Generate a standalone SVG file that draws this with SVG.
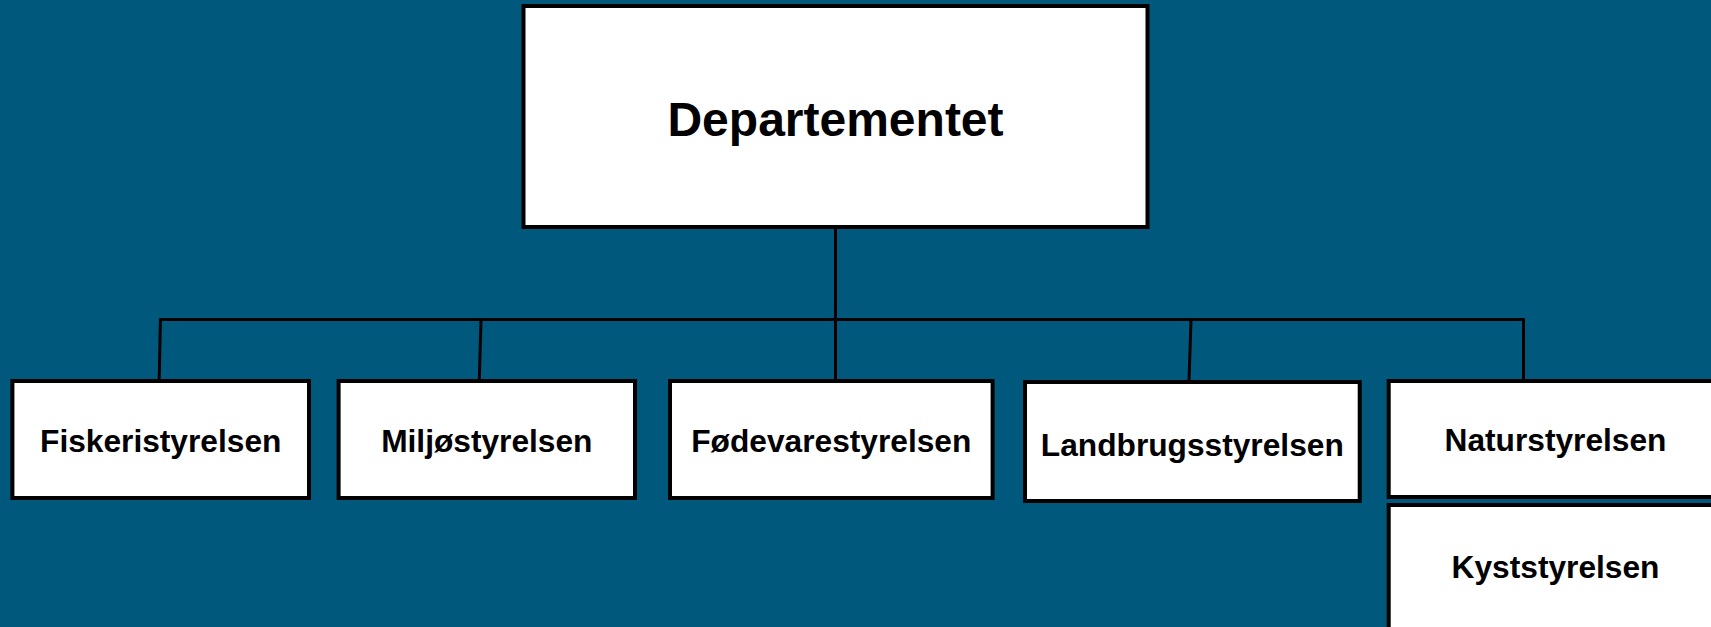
<svg xmlns="http://www.w3.org/2000/svg" width="1711" height="627" viewBox="0 0 1711 627">
<style>
.box{fill:#ffffff;stroke:#000000;stroke-width:4}
.lbl{font-family:"Liberation Sans",Arial,sans-serif;font-weight:bold;fill:#000000;text-anchor:middle}
.big{font-size:48px}
.sm{font-size:31.7px}
.con{stroke:#000000;stroke-width:3;fill:none}
</style>
<rect x="0" y="0" width="1711" height="627" fill="#00597c"/>
<g id="connectors">
<line class="con" x1="835.5" y1="227" x2="835.5" y2="319.5"/>
<line class="con" x1="159" y1="319.5" x2="1525" y2="319.5"/>
<line class="con" x1="160.4" y1="319.5" x2="159.2" y2="380"/>
<line class="con" x1="481" y1="319.5" x2="479.3" y2="380"/>
<line class="con" x1="835.5" y1="319.5" x2="835.5" y2="380"/>
<line class="con" x1="1191" y1="319.5" x2="1189" y2="381"/>
<line class="con" x1="1523.5" y1="318" x2="1523.5" y2="380"/>
</g>
<g id="departementet">
<rect class="box" x="523.5" y="6" width="624" height="221"/>
<text class="lbl big" x="835.5" y="136">Departementet</text>
</g>
<g id="fiskeristyrelsen">
<rect class="box" x="12.4" y="381" width="296.6" height="117"/>
<text class="lbl sm" x="160.7" y="452">Fiskeristyrelsen</text>
</g>
<g id="miljostyrelsen">
<rect class="box" x="338.6" y="381" width="296.4" height="117"/>
<text class="lbl sm" x="486.8" y="452">Miljøstyrelsen</text>
</g>
<g id="fodevarestyrelsen">
<rect class="box" x="670" y="381" width="322.6" height="117"/>
<text class="lbl sm" x="831.3" y="452">Fødevarestyrelsen</text>
</g>
<g id="landbrugsstyrelsen">
<rect class="box" x="1025" y="382" width="334.7" height="119"/>
<text class="lbl sm" x="1192.3" y="456">Landbrugsstyrelsen</text>
</g>
<g id="naturstyrelsen">
<rect class="box" x="1388.7" y="381" width="335" height="116"/>
<text class="lbl sm" x="1555.5" y="451">Naturstyrelsen</text>
</g>
<g id="kyststyrelsen">
<rect class="box" x="1388.7" y="505" width="335" height="140"/>
<text class="lbl sm" x="1555.5" y="578">Kyststyrelsen</text>
</g>
</svg>
